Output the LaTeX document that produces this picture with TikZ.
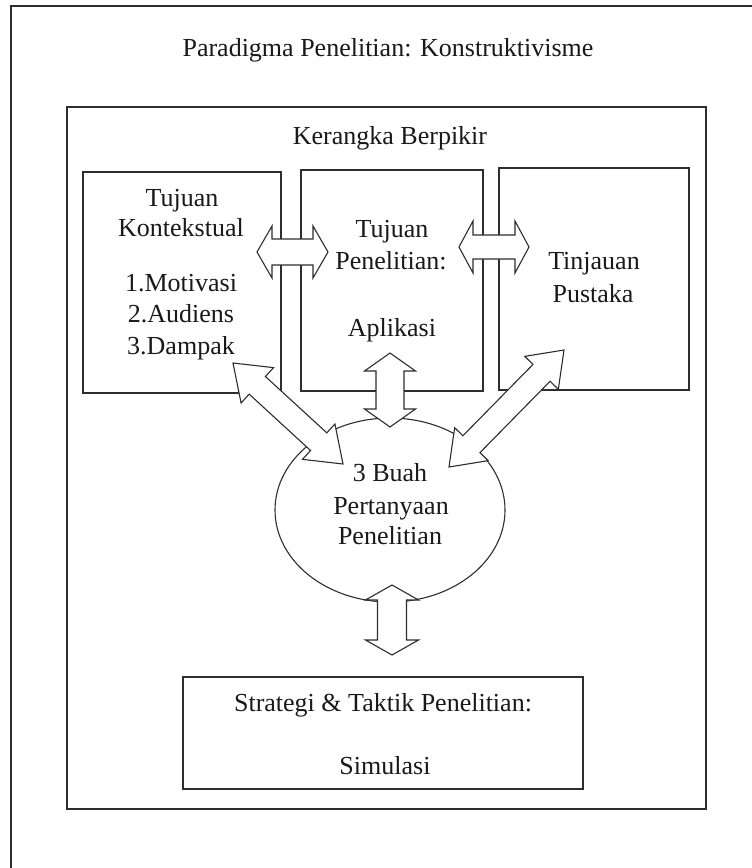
\documentclass[tikz,border=0pt]{standalone}
\usepackage{fontspec}
\setmainfont{Liberation Serif}
\usetikzlibrary{calc,shapes.geometric}
\definecolor{ink}{HTML}{2E2E2E}
\tikzset{
  boxshape/.style={draw=ink, line width=1.3pt, fill=white, inner sep=0pt, rectangle},
  ellshape/.style={draw=ink, line width=1.1pt, fill=white, inner sep=0pt, ellipse},
  barrow/.style={draw=ink, line width=1.1pt, fill=white, line join=miter},
  txt/.style={inner sep=0pt, anchor=base, text=black!90, font=\fontsize{26}{31}\selectfont},
}
\newcommand{\dblarrow}[5]{%
  \path ($(#1)!#5!(#2)$) coordinate (#1x) ($(#2)!#5!(#1)$) coordinate (#2x);
  \draw[barrow] (#1) -- ($(#1x)!#4!90:(#2)$) -- ($(#1x)!#3!90:(#2)$)
    -- ($(#2x)!#3!-90:(#1)$) -- ($(#2x)!#4!-90:(#1)$) -- (#2)
    -- ($(#2x)!#4!90:(#1)$) -- ($(#2x)!#3!90:(#1)$)
    -- ($(#1x)!#3!-90:(#2)$) -- ($(#1x)!#4!-90:(#2)$) -- cycle;
}
\begin{document}
\begin{tikzpicture}[x=1pt, y=-1pt]
\useasboundingbox (0,0) rectangle (752,868);
\fill[white] (0,0) rectangle (752,868);
% frames
\node[boxshape, minimum width=759, minimum height=884] (outer) at (390.5,448) {};
\node[boxshape, minimum width=639, minimum height=702] (inner) at (386.5,458) {};
\node[boxshape, minimum width=198, minimum height=221] (box1) at (182,282.5) {};
\node[boxshape, minimum width=182, minimum height=221] (box2) at (392,280.5) {};
\node[boxshape, minimum width=190, minimum height=222] (box3) at (594,279) {};
\node[ellshape, minimum width=230, minimum height=184] (q) at (390,510) {};
\node[boxshape, minimum width=400, minimum height=112] (strat) at (383,733) {};
% arrow end points
\coordinate (a1s) at (257,252); \coordinate (a1e) at (328,252);
\coordinate (a2s) at (459,247); \coordinate (a2e) at (529,247);
\coordinate (a3s) at (390,353); \coordinate (a3e) at (390,427);
\coordinate (a4s) at (233,363); \coordinate (a4e) at (343,464);
\coordinate (a5s) at (564,350); \coordinate (a5e) at (449,467);
\coordinate (a6s) at (392,585); \coordinate (a6e) at (392,655);
\dblarrow{a1s}{a1e}{13pt}{26pt}{15pt}
\dblarrow{a2s}{a2e}{12pt}{26pt}{14pt}
\dblarrow{a3s}{a3e}{14pt}{25.5pt}{18pt}
\dblarrow{a4s}{a4e}{12pt}{24pt}{33pt}
\dblarrow{a5s}{a5e}{12pt}{23.5pt}{32pt}
\dblarrow{a6s}{a6e}{14.5pt}{26.5pt}{15pt}
% texts
\node[txt] (t0) at (388,56) {Paradigma Penelitian: Konstruktivisme};
\node[txt] (t1) at (390,144) {Kerangka Berpikir};
\node[txt] (b1a) at (182,206) {Tujuan};
\node[txt] (b1b) at (181,236) {Kontekstual};
\node[txt] (b1c) at (181,291) {1.Motivasi};
\node[txt] (b1d) at (181,322) {2.Audiens};
\node[txt] (b1e) at (181,354) {3.Dampak};
\node[txt] (b2a) at (392,237) {Tujuan};
\node[txt] (b2b) at (391,269) {Penelitian:};
\node[txt] (b2c) at (392,336) {Aplikasi};
\node[txt] (b3a) at (594,269) {Tinjauan};
\node[txt] (b3b) at (593,302) {Pustaka};
\node[txt] (qa) at (390,481) {3 Buah};
\node[txt] (qb) at (391,514) {Pertanyaan};
\node[txt] (qc) at (390,544) {Penelitian};
\node[txt] (sa) at (383,711) {Strategi \& Taktik Penelitian:};
\node[txt] (sb) at (385,774) {Simulasi};
\end{tikzpicture}
\end{document}
